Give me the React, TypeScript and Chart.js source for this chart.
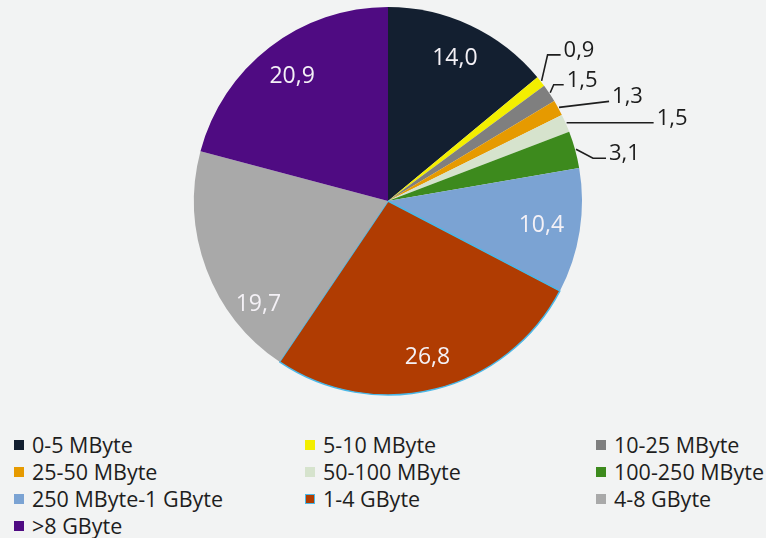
import React, { useEffect, useRef } from "react";
import { Chart, registerables } from "chart.js";

Chart.register(...registerables);

const categories = [
  "0-5 MByte",
  "5-10 MByte",
  "10-25 MByte",
  "25-50 MByte",
  "50-100 MByte",
  "100-250 MByte",
  "250 MByte-1 GByte",
  "1-4 GByte",
  "4-8 GByte",
  ">8 GByte",
];
const values = [14.0, 0.9, 1.5, 1.3, 1.5, 3.1, 10.4, 26.8, 19.7, 20.9];
const valueLabels = ["14,0", "0,9", "1,5", "1,3", "1,5", "3,1", "10,4", "26,8", "19,7", "20,9"];
const colors = [
  "#131f30",
  "#f3ee00",
  "#7f7f7f",
  "#e69a00",
  "#d6e3cd",
  "#3d8a1d",
  "#7ba3d3",
  "#b03c02",
  "#a9a9a9",
  "#4f0b82",
];
const borderColors = colors.map((c, i) => (i === 7 ? "#4ab8e8" : c));
const borderWidths = colors.map((_, i) => (i === 7 ? 1.5 : 0));

// label layout styles: inside labels (radial factor, angle shift deg) or outside (elbow, horizontal run)
type LabelStyle =
  | { mode: "in"; rf: number; shift: number }
  | { mode: "out"; ex: number; ey: number; h: number };
const labelStyles: LabelStyle[] = [
  { mode: "in", rf: 0.81, shift: 0 },
  { mode: "out", ex: 6, ey: -26, h: 13 },
  { mode: "out", ex: 3.5, ey: -8, h: 10 },
  { mode: "out", ex: 50, ey: -6, h: 0 },
  { mode: "out", ex: 87, ey: 0, h: 0 },
  { mode: "out", ex: 17, ey: 9, h: 13 },
  { mode: "in", rf: 0.8, shift: 0 },
  { mode: "in", rf: 0.83, shift: 0 },
  { mode: "in", rf: 0.855, shift: -18 },
  { mode: "in", rf: 0.81, shift: 0 },
];

const labelPlugin = {
  id: "pieLabels",
  afterDatasetsDraw(chart: any) {
    const ctx = chart.ctx as CanvasRenderingContext2D;
    const meta = chart.getDatasetMeta(0);
    meta.data.forEach((arc: any, i: number) => {
      const { x, y, startAngle, endAngle, outerRadius } = arc.getProps(
        ["x", "y", "startAngle", "endAngle", "outerRadius"],
        true
      );
      const mid = (startAngle + endAngle) / 2;
      const st = labelStyles[i];
      ctx.save();
      if (st.mode === "in") {
        const a = mid + (st.shift * Math.PI) / 180;
        const r = outerRadius * st.rf;
        ctx.font = '23px "Open Sans"';
        ctx.fillStyle = "#f4f1f6";
        ctx.textAlign = "center";
        ctx.textBaseline = "middle";
        ctx.fillText(valueLabels[i], x + Math.cos(a) * r, y + Math.sin(a) * r);
      } else {
        const sx = x + Math.cos(mid) * (outerRadius + 1);
        const sy = y + Math.sin(mid) * (outerRadius + 1);
        const exx = sx + st.ex;
        const eyy = sy + st.ey;
        const endX = exx + st.h;
        ctx.strokeStyle = "#1e1e1e";
        ctx.lineWidth = 1.6;
        ctx.beginPath();
        ctx.moveTo(sx, sy);
        ctx.lineTo(exx, eyy);
        if (st.h > 0) ctx.lineTo(endX, eyy);
        ctx.stroke();
        ctx.font = '22px "Open Sans"';
        ctx.fillStyle = "#1c1c1c";
        ctx.textAlign = "left";
        ctx.textBaseline = "alphabetic";
        ctx.fillText(valueLabels[i], endX + 3, eyy + 2);
      }
      ctx.restore();
    });
  },
};

export default function App() {
  const ref = useRef<HTMLCanvasElement | null>(null);
  useEffect(() => {
    if (!ref.current) return;
    const chart = new Chart(ref.current, {
      type: "pie",
      data: {
        labels: categories,
        datasets: [
          {
            data: values,
            backgroundColor: colors,
            borderColor: borderColors,
            borderWidth: borderWidths,
            radius: 194,
          } as any,
        ],
      },
      options: {
        responsive: false,
        maintainAspectRatio: false,
        animation: false,
        layout: { padding: { left: 10 } },
        plugins: {
          legend: { display: false },
          tooltip: { enabled: false },
        },
      } as any,
      plugins: [labelPlugin],
    });
    return () => chart.destroy();
  }, []);

  const colLefts = [14, 305, 596];
  return (
    <div
      style={{
        position: "absolute",
        left: 0,
        top: 0,
        width: 766,
        height: 538,
        background: "#f2f3f3",
        overflow: "hidden",
        fontFamily: '"Open Sans", sans-serif',
      }}
    >
      <canvas
        ref={ref}
        width={766}
        height={402}
        style={{ position: "absolute", left: 0, top: 0, width: 766, height: 402 }}
      />
      {categories.map((c, i) => {
        const row = Math.floor(i / 3);
        const col = i % 3;
        return (
          <div
            key={c}
            style={{
              position: "absolute",
              left: colLefts[col],
              top: 431 + row * 27,
              height: 27,
              lineHeight: "27px",
              display: "flex",
              alignItems: "center",
              fontSize: 21.5,
              color: "#1e1e1e",
              whiteSpace: "nowrap",
            }}
          >
            <span
              style={{
                display: "inline-block",
                width: 10,
                height: 10,
                boxSizing: "border-box",
                background: colors[i],
                border: i === 7 ? "1.5px solid #4ab8e8" : "none",
                marginRight: 8,
              }}
            />
            <span>{c}</span>
          </div>
        );
      })}
    </div>
  );
}
